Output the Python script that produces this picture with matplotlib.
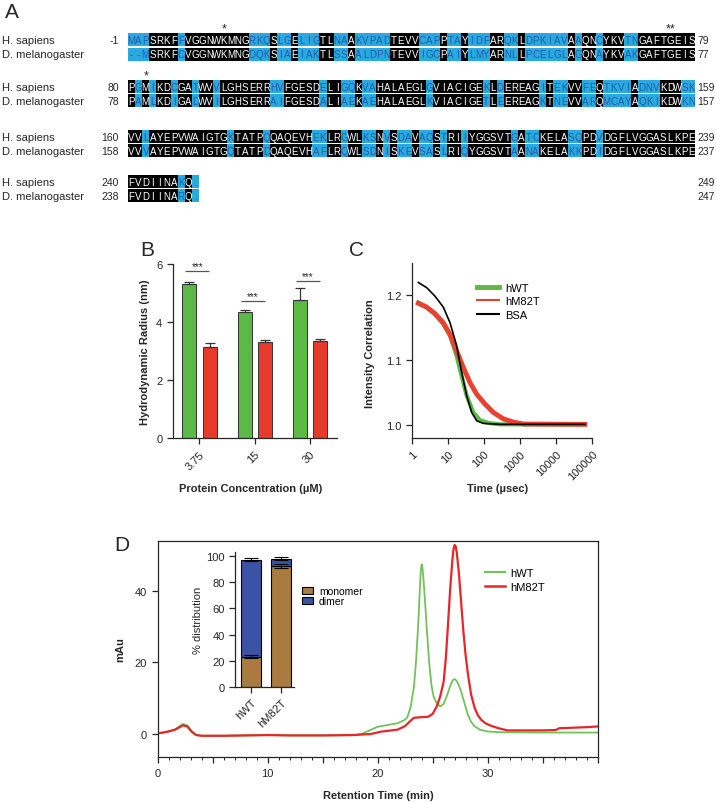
import numpy as np
import matplotlib.pyplot as plt
from matplotlib.patches import Rectangle, Patch
from matplotlib.lines import Line2D
from matplotlib.ticker import FixedLocator, FixedFormatter, MultipleLocator, FormatStrFormatter

plt.rcParams['font.family'] = ['Liberation Sans', 'DejaVu Sans']
plt.rcParams['font.size'] = 8
plt.rcParams['axes.linewidth'] = 0.9

W, H = 716, 803

# ---------------- panel A : alignment ----------------
human_rows = [
    "MAPSRKFFVGGNWKMNGRKQSLGELIGTLNAAKVPADTEVVCAPPTAYIDFARQKLDPKIAVAAQNCYKVTNGAFTGEIS",
    "PGMIKDCGATWVVLGHSERRHVFGESDELIGQKVAHALAEGLGVIACIGEKLDEREAGITEKVVFEQTKVIADNVKDWSK",
    "VVLAYEPVWAIGTGKTATPQQAQEVHEKLRGWLKSNVSDAVAQSTRIIYGGSVTGATCKELASQPDVDGFLVGGASLKPE",
    "FVDIINAKQ.",
]
fly_rows = [
    "--MSRKFCVGGNWKMNGDQKSIAEIAKTLSSAALDPNTEVVIGCPAIYLMYARNLLPCELGLAGQNAYKVAKGAFTGEIS",
    "PAMLKDIGADWVILGHSERRAIFGESDALIAEKAEHALAEGLKVIACIGETLEEREAGKTNEVVARQMCAYAQKIKDWKN",
    "VVVAYEPVWAIGTGQTATPDQAQEVHAFLRQWLSDNISKEVSASLRIQYGGSVTAANAKELAKKPDIDGFLVGGASLKPE",
    "FVDIINARQ.",
]
human_start = ['-1', '80', '160', '240']
human_end = ['79', '159', '239', '249']
fly_start = ['', '78', '158', '238']
fly_end = ['77', '157', '237', '247']
star_marks = [(0, 13, '*'), (0, 76, '**'), (1, 2, '*')]

# ---------------- panel B : DLS radius ----------------
conc_labels = ['3.75', '15', '30']
rh_wt = [5.30, 4.34, 4.77]
rh_wt_err = [0.09, 0.08, 0.42]
rh_m82t = [3.13, 3.31, 3.36]
rh_m82t_err = [0.15, 0.07, 0.05]
sig_y = [5.77, 4.74, 5.43]

# ---------------- panel C : correlation curves ----------------
t_wt_c = [1.53, 2.6, 4.4, 7.5, 11.5, 17.5, 24.1, 33.1, 50.7, 77.6, 132, 277, 62000]
g_wt = [1.188, 1.181, 1.170, 1.155, 1.137, 1.106, 1.075, 1.045, 1.019, 1.007, 1.0026, 1.0005, 1.0005]
t_m_c = [1.53, 2.6, 4.4, 7.5, 11.5, 17.5, 26.8, 41, 62.8, 106, 181, 343, 648, 1220, 62000]
g_m = [1.187, 1.181, 1.171, 1.157, 1.139, 1.114, 1.088, 1.065, 1.047, 1.032, 1.019, 1.009, 1.004, 1.001, 1.0005]
t_bsa = [1.53, 2.6, 4.4, 7.5, 11.5, 17.5, 24.1, 33.1, 45.7, 62.8, 95.6, 277, 62000]
g_bsa = [1.219, 1.211, 1.198, 1.181, 1.157, 1.122, 1.081, 1.045, 1.019, 1.006, 1.002, 1.0005, 1.0005]

# ---------------- panel D : SEC traces ----------------
t_wt_d = [0, 0.5, 1.0, 1.6, 2.0, 2.3, 2.7, 3.1, 3.5, 4.0, 6.0, 8.0, 10.0, 12.0, 15.0, 18.0,
          18.6, 19.2, 20.0, 20.9, 21.8, 22.4, 22.7, 23.0, 23.3, 23.5, 23.7, 23.85, 23.93, 24.0,
          24.07, 24.15, 24.3, 24.5, 24.7, 24.9, 25.1, 25.4, 25.7, 26.0, 26.3, 26.6, 26.8, 26.95,
          27.1, 27.3, 27.6, 27.9, 28.2, 28.5, 28.8, 29.3, 30.0, 31.0, 35.0, 40.0]
a_wt_d = [0.2, 0.4, 0.7, 1.3, 2.2, 2.8, 2.4, 0.8, -0.2, -0.5, -0.5, -0.4, -0.3, -0.4, -0.4, -0.3,
          0.1, 0.9, 2.0, 2.5, 3.0, 3.8, 4.6, 7.5, 13.0, 20.5, 31.0, 41.0, 45.5, 47.3,
          46.6, 44.0, 37.5, 28.0, 19.5, 13.5, 10.3, 8.4, 7.7, 8.4, 10.6, 13.4, 14.8, 15.3,
          15.1, 14.2, 11.8, 8.6, 5.4, 3.4, 2.2, 1.2, 0.7, 0.5, 0.4, 0.4]
t_m_d = [0, 0.5, 1.0, 1.6, 2.0, 2.3, 2.7, 3.1, 3.5, 4.0, 6.0, 8.0, 10.0, 12.0, 15.0, 17.8,
         19.4, 20.3, 21.8, 22.5, 23.0, 23.3, 24.0, 24.6, 25.0, 25.4, 25.7, 26.0, 26.2, 26.4,
         26.6, 26.8, 26.9, 27.0, 27.1, 27.2, 27.4, 27.6, 27.8, 28.0, 28.2, 28.5, 28.8, 29.1,
         29.4, 29.8, 30.3, 31.0, 31.8, 35.0, 36.2, 36.5, 39.0, 40.0]
a_m_d = [0.2, 0.4, 0.7, 1.2, 1.9, 2.4, 2.1, 0.6, -0.3, -0.5, -0.5, -0.4, -0.3, -0.4, -0.4, -0.3,
         0.0, 0.65, 1.2, 2.2, 3.7, 4.5, 4.7, 4.8, 5.6, 7.8, 10.6, 14.5, 21.0, 30.5,
         40.5, 48.5, 51.5, 52.7, 52.3, 50.5, 44.5, 36.5, 28.5, 22.0, 17.0, 11.0, 7.5, 5.3,
         4.0, 3.0, 2.3, 1.6, 1.0, 1.0, 1.1, 1.6, 1.9, 2.1]

# inset: oligomer distribution
samples = ['hWT', 'hM82T']
mono_pct = [23.0, 92.8]
mono_err = [1.2, 1.5]
dimer_pct = [74.4, 5.5]
total_err = [1.3, 0.8]

green = '#5cb946'
red = '#e53a2c'
ink = '#262626'


def px_rect(x0, y0, x1, y1):
    # pixel box (origin top-left) -> figure fraction
    return [x0 / W, 1 - y1 / H, (x1 - x0) / W, (y1 - y0) / H]


def style_ticks(ax):
    ax.tick_params(direction='out', length=4, width=0.9, colors=ink, labelsize=8)
    ax.tick_params(which='minor', direction='out', length=2.5, width=0.7, colors=ink)
    for s in ax.spines.values():
        s.set_color(ink)


fig = plt.figure(figsize=(W / 100, H / 100), dpi=100)
canvas = fig.add_axes([0, 0, 1, 1])
canvas.set_xlim(0, W)
canvas.set_ylim(H, 0)
canvas.axis('off')

# ---- A ----
seq_x0, cell, band = 128, 7.09, 13
row_y = [40.7, 87.5, 137.4, 182.4]
pair_dy = 14.3
blue_bg, blue_txt = '#2aa9e0', '#1b5fa6'
seq_font = ['Liberation Sans Narrow', 'Liberation Sans', 'DejaVu Sans']
end_x = seq_x0 + 80 * cell + 2

for r in range(len(human_rows)):
    hs, ds = human_rows[r], fly_rows[r]
    same = [a == b and a.isalpha() for a, b in zip(hs, ds)]
    rows = [(hs, 'H. sapiens', human_start[r], human_end[r]),
            (ds, 'D. melanogaster', fly_start[r], fly_end[r])]
    for k, (seq, name, s0, s1) in enumerate(rows):
        yc = row_y[r] + k * pair_dy
        i = 0
        while i < len(seq):
            j = i
            while j < len(seq) and same[j] == same[i]:
                j += 1
            canvas.add_patch(Rectangle((seq_x0 + i * cell, yc - band / 2), (j - i) * cell, band,
                                       facecolor='black' if same[i] else blue_bg, edgecolor='none'))
            i = j
        for i, ch in enumerate(seq):
            canvas.text(seq_x0 + (i + 0.5) * cell, yc + 3.4, ch, ha='center', va='baseline',
                        fontsize=7, family=seq_font, color='white' if same[i] else blue_txt)
        canvas.text(2, yc + 3.4, name, fontsize=8, va='baseline', color=ink)
        canvas.text(119, yc + 3.4, s0, fontsize=7.5, va='baseline', ha='right', color=ink)
        canvas.text(end_x, yc + 3.4, s1, fontsize=7.5, va='baseline', color=ink)

for r, col, mark in star_marks:
    canvas.text(seq_x0 + (col + 0.5) * cell, row_y[r] - 8.5, mark, ha='center', va='baseline',
                fontsize=9, color=ink)

# ---- B ----
axB = fig.add_axes(px_rect(172.7, 265, 337, 439.3))
xg = np.arange(len(conc_labels))
bw = 0.253
axB.bar(xg - 0.18, rh_wt, bw, color=green, edgecolor='#333333', lw=0.7, zorder=2)
axB.bar(xg + 0.185, rh_m82t, bw, color=red, edgecolor='#333333', lw=0.7, zorder=2)
axB.errorbar(xg - 0.18, rh_wt, yerr=[np.zeros(3), rh_wt_err], fmt='none', ecolor='#333333',
             elinewidth=0.9, capsize=3.5, capthick=0.9, zorder=3)
axB.errorbar(xg + 0.185, rh_m82t, yerr=[np.zeros(3), rh_m82t_err], fmt='none', ecolor='#333333',
             elinewidth=0.9, capsize=3.5, capthick=0.9, zorder=3)
axB.hlines(sig_y, xg - 0.25, xg + 0.18, color='#555555', lw=0.9)
for xi, yi in zip(xg, sig_y):
    axB.text(xi - 0.035, yi + 0.06, '***', ha='center', va='baseline', fontsize=7, color=ink)
axB.set_xlim(-0.481, 2.49)
axB.set_ylim(0, 6)
axB.set_yticks([0, 2, 4, 6])
axB.set_xticks(xg)
axB.set_xticklabels(conc_labels, rotation=45, ha='right', rotation_mode='anchor')
axB.spines['top'].set_visible(False)
axB.spines['right'].set_visible(False)
style_ticks(axB)

# ---- C ----
axC = fig.add_axes(px_rect(411.7, 264, 592.3, 439.3))
axC.set_xscale('log')
axC.plot(t_wt_c, g_wt, color=green, lw=3)
axC.plot(t_m_c, g_m, color='#e8412f', lw=3.5)
axC.plot(t_bsa, g_bsa, color='black', lw=1.2)
axC.set_xlim(1, 1e5)
axC.set_ylim(0.979, 1.249)
axC.set_yticks([1.0, 1.1, 1.2])
axC.yaxis.set_major_formatter(FormatStrFormatter('%.1f'))
c_ticks = [1, 10, 100, 1000, 10000, 100000]
axC.set_xticks(c_ticks)
axC.set_xticklabels([str(v) for v in c_ticks], rotation=45, ha='right', rotation_mode='anchor')
axC.spines['top'].set_visible(False)
axC.spines['right'].set_visible(False)
style_ticks(axC)
c_handles = [Line2D([], [], color=green, lw=3.5), Line2D([], [], color='#e8412f', lw=1.5),
             Line2D([], [], color='black', lw=1.5)]
axC.legend(c_handles, ['hWT', 'hM82T', 'BSA'], loc='upper left', bbox_to_anchor=(477, 284),
           bbox_transform=canvas.transData, frameon=False, fontsize=8, borderpad=0,
           borderaxespad=0, handlelength=2.0, handletextpad=0.55, labelspacing=0.3)

# ---- D ----
axD = fig.add_axes(px_rect(157.6, 542, 597.6, 758.3))
axD.plot(t_wt_d, a_wt_d, color='#72c15a', lw=1.3)
axD.plot(t_m_d, a_m_d, color='#e8262a', lw=1.6)
axD.set_xlim(0, 40)
axD.set_ylim(-6.5, 53.8)
axD.set_yticks([0, 20, 40])
axD.xaxis.set_major_locator(FixedLocator(list(range(0, 41, 5))))
axD.xaxis.set_major_formatter(FixedFormatter(['0', '', '10', '', '20', '', '30', '', '']))
axD.xaxis.set_minor_locator(MultipleLocator(1))
style_ticks(axD)
d_handles = [Line2D([], [], color='#72c15a', lw=1.5), Line2D([], [], color='#e8262a', lw=1.8)]
axD.legend(d_handles, ['hWT', 'hM82T'], loc='upper left', bbox_to_anchor=(485, 569),
           bbox_transform=canvas.transData, frameon=False, fontsize=8, borderpad=0,
           borderaxespad=0, handlelength=1.8, handletextpad=0.45, labelspacing=0.35)

# inset
axI = fig.add_axes(px_rect(235, 553, 294, 687.7))
xi = np.arange(len(samples))
brown, navy = '#a97b40', '#3a53a4'
mono_top = [m + d for m, d in zip(mono_pct, dimer_pct)]
axI.bar(xi, mono_pct, 0.67, color=brown, edgecolor='black', lw=0.8)
axI.bar(xi, dimer_pct, 0.67, bottom=mono_pct, color=navy, edgecolor='black', lw=0.8)
axI.errorbar(xi, mono_pct, yerr=mono_err, fmt='none', ecolor='black', elinewidth=0.8,
             capsize=5, capthick=0.8)
axI.errorbar(xi, mono_top, yerr=total_err, fmt='none', ecolor='black', elinewidth=0.8,
             capsize=5, capthick=0.8)
axI.set_xlim(-0.53, 1.43)
axI.set_ylim(0, 103.3)
axI.set_yticks(range(0, 101, 20))
axI.set_xticks(xi)
axI.set_xticklabels(samples, rotation=45, ha='right', rotation_mode='anchor')
axI.spines['top'].set_visible(False)
axI.spines['right'].set_visible(False)
axI.set_ylabel('% distribution', fontsize=8, color=ink, labelpad=2)
style_ticks(axI)
i_handles = [Patch(facecolor=brown, edgecolor='black', lw=0.8),
             Patch(facecolor=navy, edgecolor='black', lw=0.8)]
axI.legend(i_handles, ['monomer', 'dimer'], loc='upper left', bbox_to_anchor=(301.7, 587),
           bbox_transform=canvas.transData, frameon=False, fontsize=7.5, borderpad=0,
           borderaxespad=0, handlelength=1.1, handleheight=0.75, handletextpad=0.55,
           labelspacing=0.0)

# ---- axis titles and panel letters ----
lab = dict(fontsize=8, fontweight='bold', color=ink, ha='center', va='center')
canvas.text(145, 352, 'Hydrodynamic Radius (nm)', rotation=90, **lab)
canvas.text(251, 489, 'Protein Concentration (\u00b5M)', **lab)
canvas.text(370, 354, 'Intensity Correlation', rotation=90, **lab)
canvas.text(498, 489, 'Time (\u00b5sec)', **lab)
canvas.text(120, 650, 'mAu', rotation=90, **lab)
canvas.text(378, 796, 'Retention Time (min)', **lab)

for letter, x, y in [('A', 12, 12), ('B', 147, 250), ('C', 356, 250), ('D', 122, 546)]:
    canvas.text(x, y, letter, fontsize=15, ha='center', va='center', color=ink)

fig.savefig('out.png', dpi=100)
